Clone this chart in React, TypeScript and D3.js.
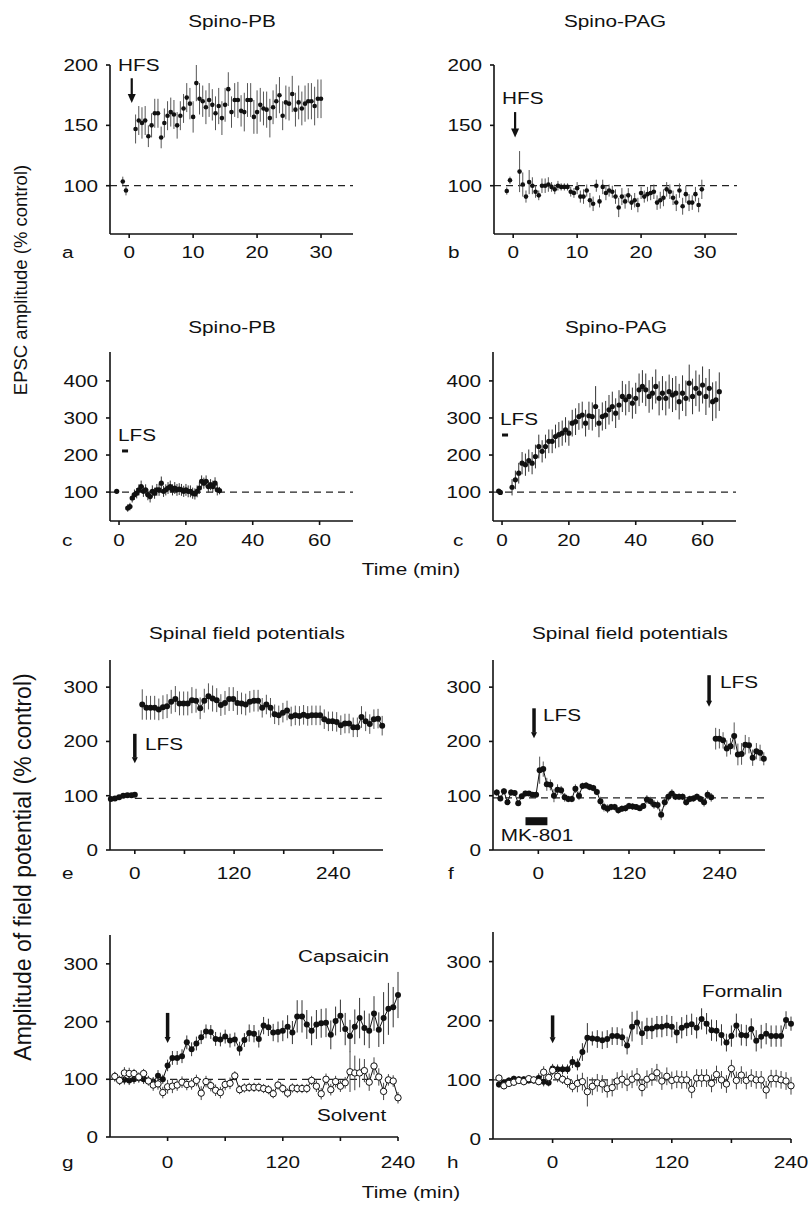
import React from "react";
import * as d3 from "d3";

const FONT = "'Liberation Sans', Arial, Helvetica, sans-serif";
const SX = 1.22;

// regular sampling times
function seq(start: number, step: number, n: number): number[] {
  return d3.range(n).map((i) => +(start + i * step).toFixed(2));
}

// ---------- a: Spino-PB, HFS ----------
const aPreT = [-1, -0.5];
const aPreV = [103.5, 96];
const aPreE = [4, 4];
const aPostT = seq(1, 0.5, 59);
const aPostV = [147,154,152,154,141,150,160,160,140,152,158,161,159,150,158,164,173,168,157,185,172,170,165,171,167,160,166,156,167,180,161,171,171,162,161,171,171,157,161,167,164,163,156,165,170,175,158,169,168,176,163,169,164,168,170,170,166,172,172];
const aPostE = [12,12,13,12,9,10,12,12,9,12,12,12,12,11,12,12,12,13,13,15,13,13,14,14,13,14,15,14,14,14,13,14,15,13,16,14,14,14,18,14,14,15,16,14,14,15,12,14,14,15,14,14,14,15,15,15,16,16,16];

// ---------- b: Spino-PAG, HFS ----------
const bPreT = [-1, -0.5];
const bPreV = [95.6, 104.5];
const bPreE = [3, 3];
const bPostT = seq(1, 0.5, 58);
const bPostV = [111.7,101,91,103,100,95,92,100,100,101,99,97,100,99,99,99,95,94,98,91,91,96,88,85,100,87,99,94,96,95,91,82,91,87,92,86,88,84,94,91,93,94,95,86,88,90,97,95,90,86,96,83,93,86,86,93,84,97];
const bPostE = [17,10,5,10,7,5,4,6,6,6,4,4,4,3,3,3,4,4,5,5,6,5,6,6,5,5,6,6,5,5,6,8,7,6,6,6,6,6,5,5,6,6,6,6,7,7,6,6,6,7,6,7,7,7,6,6,6,8];

// ---------- c (left): Spino-PB, LFS ----------
const cLPreT = [-0.7];
const cLPreV = [102];
const cLPreE = [4];
const cLPostT = seq(2.6, 0.67, 42);
const cLPostV = [57,61,84,93,97,106,115,102,106,93,88,102,97,106,106,124,102,106,111,115,106,111,106,108,106,102,106,102,102,97,95,102,111,129,124,129,115,120,115,124,106,104];
const cLPostE = [10,10,12,14,14,15,16,15,15,15,16,16,15,16,16,18,15,15,16,16,15,16,16,16,16,15,16,16,16,15,15,16,16,16,15,16,16,15,16,16,15,10];

// ---------- c (right): Spino-PAG, LFS ----------
const cRPreT = [-1, -0.5];
const cRPreV = [103, 99];
const cRPreE = [3, 3];
const cRPostT = seq(3, 1, 63);
const cRPostV = [113,133,151,178,174,185,178,196,223,210,223,237,237,250,255,259,268,259,286,290,304,308,286,306,304,331,286,304,308,322,331,313,335,358,349,358,340,353,376,385,376,358,367,385,353,367,353,371,362,367,344,367,353,394,358,380,367,389,358,380,344,349,371];
const cRPostE = [22,25,28,30,30,30,30,32,32,30,32,32,32,32,34,34,34,34,36,36,36,36,36,38,38,55,38,38,38,40,40,40,40,42,42,42,42,42,44,44,44,44,44,46,46,46,46,46,46,46,48,48,48,50,48,48,50,50,50,52,52,50,52];

// ---------- e: spinal field potentials, LFS ----------
const ePreT = [-29, -24, -19, -14, -9, -4, 0];
const ePreV = [94, 95, 97, 100, 101, 101, 102];
const ePreE = [2, 2, 2, 2, 2, 2, 2];
const ePostT = seq(9, 5, 59);
const ePostV = [268,262,262,262,259,263,265,273,278,270,270,270,276,275,261,275,283,279,276,267,271,278,278,271,270,268,273,275,275,262,268,262,250,248,253,257,246,248,247,249,247,248,248,248,241,237,237,236,230,233,233,226,226,245,237,232,241,242,229];
const ePostE = [28,22,22,22,20,22,22,22,24,22,22,22,24,22,20,22,24,24,22,20,22,22,22,22,20,20,20,20,20,18,18,18,18,18,18,18,18,18,18,18,18,18,18,18,18,18,18,18,18,18,18,18,18,20,18,18,18,18,18];

// ---------- f: MK-801 then LFS ----------
const f1T = seq(-55, 4.73, 61);
const f1V = [106,95,108,88,106,105,86,99,104,104,102,102,147,149,121,120,100,111,110,97,94,94,113,100,118,119,116,114,107,90,79,76,79,79,73,76,77,81,80,79,77,81,93,90,84,83,65,88,98,104,98,98,98,88,94,95,98,94,88,102,97];
const f1E = [6,5,6,5,6,5,5,5,5,4,4,4,25,14,12,10,12,10,8,8,6,6,8,8,6,6,6,6,6,8,8,8,6,6,6,6,6,6,6,5,5,5,8,8,8,8,10,8,8,8,6,6,6,6,6,6,6,6,8,8,8];
const f2T = seq(234.7, 4.9, 14);
const f2V = [205,205,202,187,191,210,176,177,194,193,170,182,179,168];
const f2E = [20,18,15,15,15,25,20,20,18,15,15,15,15,12];

// ---------- g: capsaicin vs solvent ----------
const gT = seq(-55, 5, 11).concat(seq(0, 5, 49));
const gCapV = [104,98,99,98,100,102,100,98,96,106,100,124,137,137,140,164,152,162,173,183,182,170,169,174,167,169,153,168,180,179,170,193,190,181,182,184,191,181,209,209,195,184,195,197,198,177,201,210,187,175,191,206,189,184,214,186,206,222,225,246];
const gCapE = [8,8,8,8,8,8,8,8,8,10,8,10,12,12,12,12,12,12,12,12,12,12,12,12,12,12,12,12,15,15,15,15,15,15,18,18,20,20,28,28,25,25,25,25,25,25,25,28,28,28,30,35,30,30,30,30,45,45,35,40];
const gSolV = [105,98,111,110,110,104,110,97,90,92,77,87,88,90,95,91,92,98,76,96,89,81,77,91,93,106,82,85,86,86,86,84,82,75,90,84,76,85,84,84,84,98,88,75,100,82,96,88,94,113,111,111,115,95,123,104,79,99,97,68];
const gSolE = [8,8,10,10,8,8,8,8,10,10,10,12,12,10,10,10,10,10,12,10,10,10,10,10,10,8,8,8,8,8,8,8,8,8,8,8,8,8,8,8,8,8,10,10,10,10,10,10,10,35,30,25,20,15,15,15,15,10,10,10];

// ---------- h: formalin vs solvent ----------
const hT = seq(-54, 5, 11).concat(seq(0, 5, 49));
const hForV = [92,96,99,102,101,101,99,99,103,97,95,119,118,118,118,130,126,147,171,170,169,167,169,174,174,172,158,190,197,179,187,187,190,190,192,190,180,188,192,194,188,203,195,184,183,176,163,174,192,176,175,186,166,173,178,174,174,174,201,195];
const hForE = [5,5,5,5,5,5,5,5,8,8,6,8,8,8,8,10,10,15,25,12,15,15,15,15,15,15,15,25,20,20,18,18,18,18,18,18,18,18,18,18,18,18,18,18,18,18,15,18,20,18,18,18,18,20,18,18,18,18,15,12];
const hSolV = [103,90,94,96,99,97,102,100,97,113,104,116,106,101,97,89,94,97,80,89,95,93,85,87,98,101,96,101,105,87,101,105,112,98,106,99,101,100,100,84,103,103,103,94,109,100,93,119,99,108,99,103,100,100,83,102,102,100,98,90];
const hSolE = [6,6,6,6,6,6,6,6,6,10,8,8,10,8,10,10,15,15,25,15,15,15,15,15,15,15,15,15,15,15,15,15,15,15,15,15,15,15,15,15,15,15,15,15,15,15,15,15,15,15,15,15,15,15,15,15,15,15,15,15];

type Series = {
  t: number[];
  v: number[];
  e: number[];
  kind: "dot" | "filled" | "open";
  r: number;
  line?: boolean;
  errColor?: string;
};

type Sc = d3.ScaleLinear<number, number>;

function T(props: {
  x: number;
  y: number;
  children: React.ReactNode;
  anchor?: "start" | "middle" | "end";
  size?: number;
  sx?: number;
}) {
  const { x, y, children, anchor = "start", size = 17, sx = SX } = props;
  return (
    <text
      transform={`translate(${x},${y}) scale(${sx},1)`}
      textAnchor={anchor}
      fontSize={size}
      fontFamily={FONT}
      fill="#111"
    >
      {children}
    </text>
  );
}

function Arrow(props: { x: number; y1: number; y2: number; shaft: number; head: number; headLen: number }) {
  const { x, y1, y2, shaft, head, headLen } = props;
  const yb = y2 - headLen;
  return (
    <g fill="#111" stroke="none">
      <rect x={x - shaft / 2} y={y1} width={shaft} height={yb - y1 + 0.5} />
      <path d={`M${x - head / 2},${yb} L${x + head / 2},${yb} L${x},${y2} Z`} />
    </g>
  );
}

function Panel(props: {
  xd: [number, number];
  xr: [number, number];
  yd: [number, number];
  yr: [number, number];
  xTicks: number[];
  xLabels: number[];
  yTicks: number[];
  dash: number;
  dashFrom?: number;
  series: Series[];
  letter: string;
  letterX: number;
  labelDy: number;
  extra?: (x: Sc, y: Sc) => React.ReactNode;
}) {
  const { xd, xr, yd, yr, xTicks, xLabels, yTicks, dash, dashFrom, series, letter, letterX, labelDy, extra } = props;
  const x = d3.scaleLinear().domain(xd).range(xr);
  const y = d3.scaleLinear().domain(yd).range(yr);
  const axisColor = "#111";
  return (
    <g>
      <line
        x1={dashFrom !== undefined ? x(dashFrom) : xr[0]}
        x2={xr[1]}
        y1={y(dash)}
        y2={y(dash)}
        stroke="#222"
        strokeWidth={1.2}
        strokeDasharray="7,5"
      />
      {series.map((s, si) => {
        const pts = s.t.map((t, i) => [x(t), y(s.v[i])] as [number, number]);
        const path = d3.line()(pts);
        return (
          <g key={si}>
            {s.t.map((t, i) => (
              <line
                key={"e" + i}
                x1={x(t)}
                x2={x(t)}
                y1={y(s.v[i] - s.e[i])}
                y2={y(s.v[i] + s.e[i])}
                stroke={s.errColor || "#555"}
                strokeWidth={1}
              />
            ))}
            {s.line && path ? <path d={path} fill="none" stroke="#111" strokeWidth={1} /> : null}
            {pts.map((p, i) => (
              <circle
                key={"c" + i}
                cx={p[0]}
                cy={p[1]}
                r={s.r}
                fill={s.kind === "open" ? "#fff" : "#111"}
                stroke="#111"
                strokeWidth={s.kind === "open" ? 1 : 0}
              />
            ))}
          </g>
        );
      })}
      {extra ? extra(x, y) : null}
      <line x1={xr[0]} x2={xr[0]} y1={yr[0]} y2={yr[1]} stroke={axisColor} strokeWidth={1.6} />
      <line x1={xr[0]} x2={xr[1]} y1={yr[0]} y2={yr[0]} stroke={axisColor} strokeWidth={1.6} />
      {yTicks.map((v) => (
        <g key={"yt" + v}>
          <line x1={xr[0] - 4} x2={xr[0]} y1={y(v)} y2={y(v)} stroke={axisColor} strokeWidth={1.6} />
          <T x={xr[0] - 12} y={y(v) + 6} anchor="end">
            {v}
          </T>
        </g>
      ))}
      {xTicks.map((v) => (
        <line key={"xt" + v} x1={x(v)} x2={x(v)} y1={yr[0]} y2={yr[0] + 4} stroke={axisColor} strokeWidth={1.6} />
      ))}
      {xLabels.map((v) => (
        <T key={"xl" + v} x={x(v)} y={yr[0] + labelDy} anchor="middle">
          {v}
        </T>
      ))}
      <T x={letterX} y={yr[0] + labelDy}>
        {letter}
      </T>
    </g>
  );
}

function dotSeries(t: number[], v: number[], e: number[], r: number, errColor?: string): Series {
  return { t, v, e, kind: "dot", r, errColor };
}

export default function App() {
  const topY: [number, number] = [60, 200];
  const topYr: [number, number] = [234, 65];
  const cY: [number, number] = [22, 478];
  const cYr: [number, number] = [521, 352];
  const fieldY: [number, number] = [0, 350];

  return (
    <svg
      width={810}
      height={1205}
      viewBox="0 0 810 1205"
      style={{ position: "absolute", left: 0, top: 0, background: "#fff", display: "block" }}
    >
      <rect x={0} y={0} width={810} height={1205} fill="#fff" />

      {/* Row 1 titles */}
      <T x={232} y={27} anchor="middle">Spino-PB</T>
      <T x={615} y={27} anchor="middle">Spino-PAG</T>

      {/* a */}
      <Panel
        xd={[-3, 35]}
        xr={[110, 353]}
        yd={topY}
        yr={topYr}
        xTicks={[0, 10, 20, 30]}
        xLabels={[0, 10, 20, 30]}
        yTicks={[100, 150, 200]}
        dash={100}
        series={[dotSeries(aPreT, aPreV, aPreE, 2.3), dotSeries(aPostT, aPostV, aPostE, 2.3)]}
        letter="a"
        letterX={62}
        labelDy={24}
        extra={(x, y) => (
          <g>
            <T x={118} y={71}>HFS</T>
            <Arrow x={x(0.4)} y1={y(189)} y2={y(168.5)} shaft={2.2} head={8} headLen={9} />
          </g>
        )}
      />

      {/* b */}
      <Panel
        xd={[-3, 35]}
        xr={[494, 737]}
        yd={topY}
        yr={topYr}
        xTicks={[0, 10, 20, 30]}
        xLabels={[0, 10, 20, 30]}
        yTicks={[100, 150, 200]}
        dash={100}
        series={[dotSeries(bPreT, bPreV, bPreE, 2.3), dotSeries(bPostT, bPostV, bPostE, 2.3)]}
        letter="b"
        letterX={448}
        labelDy={24}
        extra={(x, y) => (
          <g>
            <T x={502} y={104}>HFS</T>
            <Arrow x={x(0.3)} y1={y(161)} y2={y(140)} shaft={2.2} head={8} headLen={9} />
          </g>
        )}
      />

      {/* Row 2 titles */}
      <T x={232} y={333} anchor="middle">Spino-PB</T>
      <T x={616} y={333} anchor="middle">Spino-PAG</T>

      {/* c left */}
      <Panel
        xd={[-2.7, 70]}
        xr={[110, 353]}
        yd={cY}
        yr={cYr}
        xTicks={[0, 20, 40, 60]}
        xLabels={[0, 20, 40, 60]}
        yTicks={[100, 200, 300, 400]}
        dash={100}
        series={[dotSeries(cLPreT, cLPreV, cLPreE, 2.6, "#333"), dotSeries(cLPostT, cLPostV, cLPostE, 2.6, "#333")]}
        letter="c"
        letterX={62}
        labelDy={25}
        extra={(x, y) => (
          <g>
            <T x={118} y={441}>LFS</T>
            <rect x={x(0.9)} y={y(211) - 1.5} width={x(2.7) - x(0.9)} height={3} fill="#111" />
          </g>
        )}
      />

      {/* c right */}
      <Panel
        xd={[-2.7, 70]}
        xr={[493, 736]}
        yd={cY}
        yr={cYr}
        xTicks={[0, 20, 40, 60]}
        xLabels={[0, 20, 40, 60]}
        yTicks={[100, 200, 300, 400]}
        dash={100}
        series={[dotSeries(cRPreT, cRPreV, cRPreE, 2.6, "#333"), dotSeries(cRPostT, cRPostV, cRPostE, 2.6, "#333")]}
        letter="c"
        letterX={453}
        labelDy={25}
        extra={(x, y) => (
          <g>
            <T x={500} y={425}>LFS</T>
            <rect x={x(0)} y={y(254) - 1.5} width={x(1.8) - x(0)} height={3} fill="#111" />
          </g>
        )}
      />

      <T x={411} y={575} anchor="middle">Time (min)</T>

      {/* EPSC y label */}
      <text
        transform="translate(27,280) rotate(-90)"
        textAnchor="middle"
        fontSize={18.5}
        fontFamily={FONT}
        fill="#111"
      >
        EPSC amplitude (% control)
      </text>

      {/* Row 3 titles */}
      <T x={247} y={639} anchor="middle">Spinal field potentials</T>
      <T x={630} y={639} anchor="middle">Spinal field potentials</T>

      {/* e */}
      <Panel
        xd={[-30, 300]}
        xr={[110, 383]}
        yd={fieldY}
        yr={[850, 660]}
        xTicks={[0, 60, 120, 180, 240]}
        xLabels={[0, 120, 240]}
        yTicks={[0, 100, 200, 300]}
        dash={95}
        dashFrom={0}
        series={[
          { t: ePreT, v: ePreV, e: ePreE, kind: "filled", r: 3, line: true },
          { t: ePostT, v: ePostV, e: ePostE, kind: "filled", r: 3, line: true },
        ]}
        letter="e"
        letterX={62}
        labelDy={29}
        extra={(x, y) => (
          <g>
            <Arrow x={x(0)} y1={y(214)} y2={y(160)} shaft={3.5} head={6} headLen={6} />
            <T x={145} y={750}>LFS</T>
          </g>
        )}
      />

      {/* f */}
      <Panel
        xd={[-60, 300]}
        xr={[493, 765]}
        yd={fieldY}
        yr={[850, 660]}
        xTicks={[0, 60, 120, 180, 240]}
        xLabels={[0, 120, 240]}
        yTicks={[0, 100, 200, 300]}
        dash={96}
        series={[
          { t: f1T, v: f1V, e: f1E, kind: "filled", r: 3, line: true },
          { t: f2T, v: f2V, e: f2E, kind: "filled", r: 3, line: true },
        ]}
        letter="f"
        letterX={448}
        labelDy={29}
        extra={(x, y) => (
          <g>
            <Arrow x={x(-5.7)} y1={y(261)} y2={y(206)} shaft={3.5} head={6} headLen={6} />
            <T x={543} y={721}>LFS</T>
            <Arrow x={x(226)} y1={y(322)} y2={y(264)} shaft={3.5} head={6} headLen={6} />
            <T x={720} y={688}>LFS</T>
            <rect x={x(-17)} y={y(53) - 4} width={x(12) - x(-17)} height={8} fill="#111" />
            <T x={537} y={841} anchor="middle">MK-801</T>
          </g>
        )}
      />

      {/* g */}
      <Panel
        xd={[-60, 240]}
        xr={[110, 398]}
        yd={fieldY}
        yr={[1137, 935]}
        xTicks={[0, 60, 120, 180, 240]}
        xLabels={[0, 120, 240]}
        yTicks={[0, 100, 200, 300]}
        dash={100}
        series={[
          { t: gT, v: gCapV, e: gCapE, kind: "filled", r: 3, line: true, errColor: "#333" },
          { t: gT, v: gSolV, e: gSolE, kind: "open", r: 3.2, line: true, errColor: "#444" },
        ]}
        letter="g"
        letterX={62}
        labelDy={31}
        extra={(x, y) => (
          <g>
            <Arrow x={x(0)} y1={y(215)} y2={y(163)} shaft={3.5} head={6} headLen={6} />
            <T x={298} y={962}>Capsaicin</T>
            <T x={317} y={1121}>Solvent</T>
          </g>
        )}
      />

      {/* h */}
      <Panel
        xd={[-60, 240]}
        xr={[493, 791]}
        yd={fieldY}
        yr={[1139, 932]}
        xTicks={[0, 60, 120, 180, 240]}
        xLabels={[0, 120, 240]}
        yTicks={[0, 100, 200, 300]}
        dash={100}
        series={[
          { t: hT, v: hForV, e: hForE, kind: "filled", r: 3, line: true, errColor: "#333" },
          { t: hT, v: hSolV, e: hSolE, kind: "open", r: 3.2, line: true, errColor: "#444" },
        ]}
        letter="h"
        letterX={447}
        labelDy={29}
        extra={(x, y) => (
          <g>
            <Arrow x={x(0)} y1={y(209)} y2={y(162)} shaft={3.5} head={6} headLen={6} />
            <T x={702} y={997}>Formalin</T>
          </g>
        )}
      />

      <T x={411} y={1198} anchor="middle">Time (min)</T>

      {/* field y label */}
      <text
        transform="translate(31,867) rotate(-90)"
        textAnchor="middle"
        fontSize={23}
        fontFamily={FONT}
        fill="#111"
      >
        Amplitude of field potential (% control)
      </text>
    </svg>
  );
}
